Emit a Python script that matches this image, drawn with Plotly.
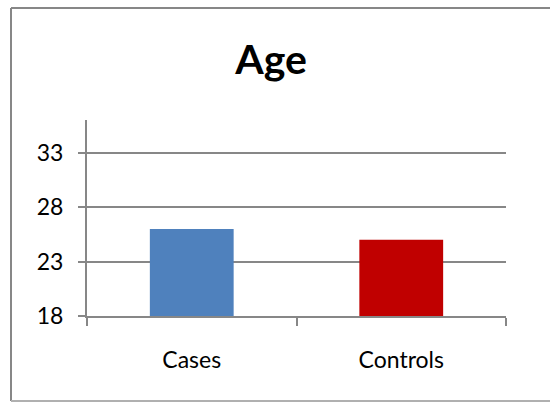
import plotly.graph_objects as go

categories = ["Cases", "Controls"]
ages = [26, 25]
bar_colors = ["#4F81BD", "#C00000"]
y_ticks = [18, 23, 28, 33]

W, H = 550, 402
ML, MR, MT, MB = 87, 44, 120, 86
pw, ph = W - ML - MR, H - MT - MB

def px_x(p):
    return (p - ML) / pw

def px_y(p):
    return (H - MB - p) / ph

fig = go.Figure(go.Bar(
    x=categories, y=ages, marker=dict(color=bar_colors, line=dict(width=0)),
    width=0.4,
))

grey = "#878787"

# outer chart frame: left, top and bottom edges (right edge runs off the page)
frame = [
    (11, 8, 11, 401, grey),
    (11, 8, 550, 8, grey),
    (11, 401, 550, 401, "#b0b0b0"),
]
shapes = [dict(type="line", xref="paper", yref="paper",
               x0=px_x(a), y0=px_y(b), x1=px_x(c), y1=px_y(d),
               line=dict(color=col, width=2), layer="below")
          for a, b, c, d, col in frame]

fig.update_layout(
    width=W, height=H,
    margin=dict(l=ML, r=MR, t=MT, b=MB),
    paper_bgcolor="white", plot_bgcolor="white",
    font=dict(family="Lato", color="black", size=23),
    showlegend=False,
    title=dict(text="<b>Age</b>", x=(271) / W, xanchor="center",
               y=1 - 60 / H, yanchor="middle",
               font=dict(size=41, family="Lato", color="black")),
    xaxis=dict(showline=True, linecolor=grey, linewidth=2,
               ticks="outside", tickson="boundaries", ticklen=8,
               tickcolor=grey, tickwidth=2, showgrid=False,
               tickfont=dict(size=23), ticklabelstandoff=22),
    yaxis=dict(range=[18, 36], tickvals=y_ticks, showline=True,
               linecolor=grey, linewidth=2, ticks="outside", ticklen=7,
               tickcolor=grey, tickwidth=2, showgrid=True,
               gridcolor=grey, gridwidth=2, zeroline=False,
               tickfont=dict(size=23), ticklabelstandoff=10),
    shapes=shapes,
)

fig.write_html("out.html")
